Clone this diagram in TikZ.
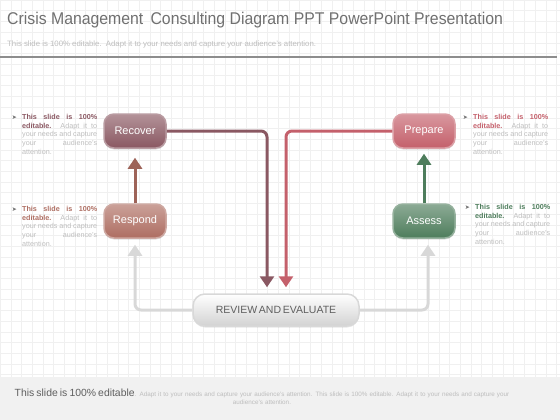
\documentclass[tikz,border=0pt]{standalone}
\usepackage{fontspec}
\setmainfont{Liberation Sans}
\newfontfamily\symfont{DejaVu Sans}
\newfontfamily\titlefont[FakeStretch=0.93]{Liberation Sans}
\usetikzlibrary{arrows.meta}
\usetikzlibrary{positioning}
\usetikzlibrary{shadows}
\definecolor{mmauve}{HTML}{8A5862}
\definecolor{mbrown}{HTML}{AE6E62}
\definecolor{mred}{HTML}{C4606B}
\definecolor{mgreen}{HTML}{4E7D5C}
\definecolor{mgrey}{HTML}{D8D8D8}
\definecolor{mtext}{HTML}{BDBDBD}
\definecolor{mtitle}{HTML}{707070}
\definecolor{mband}{HTML}{F1F1F1}
\hyphenpenalty=10000
\exhyphenpenalty=10000
\tikzset{stage/.style = {rounded corners=10pt, minimum width=62pt, minimum height=34pt,
                         draw=#1!60!white, line width=1.5pt,
                         top color=#1!65!white, bottom color=#1,
                         text=white, font=\fontsize{11}{13}\selectfont,
                         drop shadow={shadow xshift=0pt, shadow yshift=-1.5pt, opacity=0.25}}}
\tikzset{flow/.style = {line width=3pt, rounded corners=6pt,
                        -{Triangle[length=11pt, width=14pt]}}}
\tikzset{note/.style = {text width=75pt, align=justify, inner sep=0, text=mtext,
                        font=\fontsize{7.2}{8.7}\selectfont, anchor=north west}}
\tikzset{pointer/.style = {inner sep=0, text=mtitle, font=\symfont\fontsize{6}{6}\selectfont}}
\newcommand{\blurb}[1]{{\color{#1}\bfseries This slide is 100\% editable.} Adapt it to your needs and capture your audience's attention.}

\begin{document}
\begin{tikzpicture}[x=1pt, y=-1pt]
  \useasboundingbox (0, 0) rectangle (560, 420);

  % background grid
  \foreach \x in {0, 10.7, ..., 560}
    \draw [gray!12, line width=0.4pt] (\x, 0) -- (\x, 377);
  \foreach \y in {0, 10.7, ..., 377}
    \draw [gray!12, line width=0.4pt] (0, \y) -- (560, \y);

  % header
  \node [anchor=west, inner sep=0, text=mtitle, font=\titlefont\fontsize{17}{20}\selectfont] (title) at (7, 20)
    {Crisis Management\, Consulting Diagram PPT PowerPoint Presentation};
  \node [anchor=west, inner sep=0, text=mtext, font=\fontsize{7.8}{10}\selectfont] (subtitle) at (7, 44)
    {This slide is 100\% editable.\, Adapt it to your needs and capture your audience's attention.};
  \draw [line width=2pt, mtitle!80] (0, 57) -- (557, 57);

  % stages
  \node [stage=mmauve] (recover) at (135, 131) {Recover};
  \node [stage=mbrown] (respond) at (135, 221) {Respond};
  \node [stage=mred] (prepare) at (424, 131) {Prepare};
  \node [stage=mgreen] (assess) at (424, 221) {Assess};
  \node [rounded corners=12pt, minimum width=166pt, minimum height=32pt, draw=mgrey, line width=1.5pt,
         top color=white, bottom color=gray!35, text=mtitle!85!black,
         font=\fontsize{10.5}{12}\selectfont,
         drop shadow={shadow xshift=0pt, shadow yshift=-1.5pt, opacity=0.2}] (review) at (276, 310)
    {REVIEW\,AND\,EVALUATE};

  % connectors
  \draw [flow, mbrown!90!black] (respond) -- (recover) [shorten >=9pt];
  \draw [flow, mgreen] (assess) -- (prepare) [shorten >=5pt];
  \draw [flow, mmauve, shorten >=6pt] (recover.east) -| ([xshift=-9pt]review.north);
  \draw [flow, mred, shorten >=6pt] (prepare.west) -| ([xshift=10pt]review.north);
  \draw [flow, mgrey, shorten >=6pt] (review.west) -| (respond.south);
  \draw [flow, mgrey, shorten >=6pt] (review.east) -| ([xshift=4pt]assess.south);

  % notes
  \node [note] (recovernote) at (22, 114) {\blurb{mmauve}};
  \node [note] (respondnote) at (22, 206) {\blurb{mbrown}};
  \node [note] (preparenote) at (473, 114) {\blurb{mred}};
  \node [note] (assessnote) at (475, 204) {\blurb{mgreen}};
  \foreach \n in {recovernote, respondnote, preparenote, assessnote}
    \node [pointer, left=5pt of \n.north west, yshift=-4pt] {➤};

  % footer
  \fill [mband] (0, 377) rectangle (560, 420);
  \node [text width=512pt, align=center, inner sep=0, text=mtext,
         font=\fontsize{6.3}{8}\selectfont] (footer) at (262, 397)
    {{\color{mtitle!85!black}\fontsize{10.4}{10}\selectfont This slide is 100\% editable}. Adapt it to your needs and capture your audience's attention. This slide is 100\% editable. Adapt it to your needs and capture your audience's attention.};
\end{tikzpicture}
\end{document}
